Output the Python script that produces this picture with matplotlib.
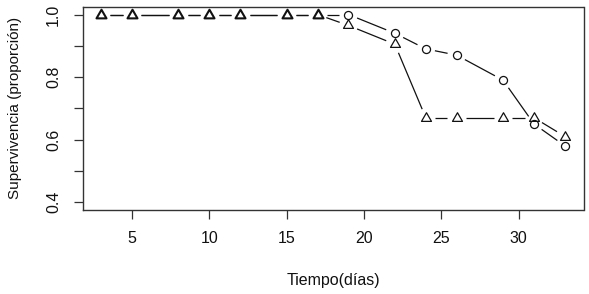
import numpy as np
import matplotlib
matplotlib.use("Agg")
import matplotlib.pyplot as plt
from matplotlib.path import Path

plt.rcParams['font.family'] = ['Liberation Sans', 'DejaVu Sans']

days = [3, 5, 8, 10, 12, 15, 17, 19, 22, 24, 26, 29, 31, 33]
surv_tri = [1.0, 1.0, 1.0, 1.0, 1.0, 1.0, 1.0, 0.965, 0.905, 0.67, 0.67, 0.67, 0.67, 0.61]
surv_circ = [1.0, 1.0, 1.0, 1.0, 1.0, 1.0, 1.0, 1.0, 0.94, 0.89, 0.87, 0.79, 0.65, 0.58]
xticks = [5, 10, 15, 20, 25, 30]
yticks = [0.4, 0.5, 0.6, 0.7, 0.8, 0.9, 1.0]
ylabels = ["0.4", "", "0.6", "", "0.8", "", "1.0"]

W, H = 589, 294
fig = plt.figure(figsize=(W / 100, H / 100), dpi=100)
L, R, T, B = 82.5, 583.5, 7.0, 209.7
ax = fig.add_axes([L / W, 1 - B / H, (R - L) / W, (B - T) / H])
ax.set_xlim(1.8, 34.2)
ax.set_ylim(0.376, 1.024)

col = '#111111'
for s in ax.spines.values():
    s.set_color('#333333')
    s.set_linewidth(1.0)

ax.set_xticks(xticks)
ax.set_yticks(yticks)
ax.set_yticklabels(ylabels, rotation=90, va='center')
ax.tick_params(axis='both', direction='out', length=6.5, width=0.9, color='#333333',
               labelsize=11.5, labelcolor=col)
ax.tick_params(axis='x', pad=9)
ax.tick_params(axis='y', pad=9)

ax.set_xlabel('Tiempo(días)', fontsize=11.5, color=col, va='center')
ax.xaxis.set_label_coords(0.5, -(281 - B) / (B - T))
ax.set_ylabel('Supervivencia (proporción)', fontsize=11, color=col, va='center')
ax.yaxis.set_label_coords(-(L - 15) / (R - L), 0.5)

fig.canvas.draw()

tri = Path([(-0.866, -0.5), (0.866, -0.5), (0.0, 1.0), (-0.866, -0.5)],
           [Path.MOVETO, Path.LINETO, Path.LINETO, Path.CLOSEPOLY])


def draw_b(x, y, gap):
    pts = ax.transData.transform(np.column_stack([x, y]))
    inv = ax.transData.inverted()
    for i in range(len(pts) - 1):
        p0, p1 = pts[i], pts[i + 1]
        d = p1 - p0
        ln = np.hypot(*d)
        if ln > 2 * gap:
            a = p0 + d / ln * gap
            b = p1 - d / ln * gap
            seg = inv.transform(np.array([a, b]))
            ax.plot(seg[:, 0], seg[:, 1], color=col, lw=0.9, solid_capstyle='butt')


draw_b(days, surv_circ, 9.3)
draw_b(days, surv_tri, 9.3)

d = np.array(days)
sc = np.array(surv_circ)
st = np.array(surv_tri)
mask = sc != st
ax.plot(d[mask], sc[mask], linestyle='none', marker='o', ms=5.8, mfc='none',
        mec=col, mew=0.9)
ax.plot(d[mask], st[mask], linestyle='none', marker=tri, ms=8.3, mfc='none',
        mec=col, mew=0.9)
ax.plot(d[~mask], st[~mask], linestyle='none', marker=tri, ms=8.3, mfc='none',
        mec=col, mew=1.5)

fig.savefig('out.png', dpi=100)
